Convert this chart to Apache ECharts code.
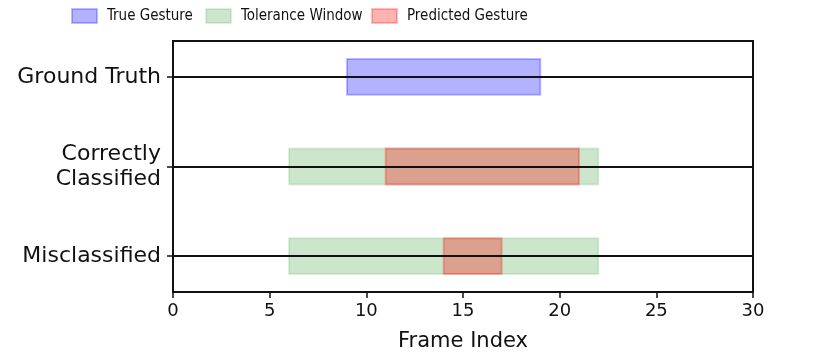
<!DOCTYPE html>
<html>
<head>
<meta charset="utf-8">
<script src="https://cdn.jsdelivr.net/npm/echarts@6/dist/echarts.min.js"></script>
<style>html,body{margin:0;padding:0;background:#fff}#c{width:829px;height:357px}</style>
</head>
<body>
<div id="c"></div>
<script>
// Data
var categories = ['Ground Truth', 'Correctly\nClassified', 'Misclassified'];
var xTicks = [0, 5, 10, 15, 20, 25, 30];
// [rowIndex, start, end]
var trueGesture = [[0, 9, 19]];
var toleranceWindow = [[1, 6, 22], [2, 6, 22]];
var predictedGesture = [[1, 11, 21], [2, 14, 17]];
var rowIndices = [0, 1, 2];

var BAR_H = 0.4;
function spanRender(params, api) {
  var row = api.value(0);
  var p0 = api.coord([api.value(1), row]);
  var p1 = api.coord([api.value(2), row]);
  var h = Math.abs(api.size([0, BAR_H])[1]);
  var style = api.style();
  return {
    type: 'rect',
    shape: { x: p0[0], y: p0[1] - h / 2, width: p1[0] - p0[0], height: h },
    style: style
  };
}

var legendFont = { fontFamily: "'Liberation Sans Narrow','DejaVu Sans Condensed',sans-serif", fontSize: 15, color: '#111', padding: [0, 0, 0, 5] };
function mkLegend(name, left) {
  return {
    data: [name], left: left, top: 8, itemWidth: 25, itemHeight: 14, itemGap: 0,
    icon: 'rect', textStyle: legendFont, padding: 0
  };
}

var chart = echarts.init(document.getElementById('c'), null, { renderer: 'canvas' });
chart.setOption({
  animation: false,
  backgroundColor: '#fff',
  legend: [mkLegend('True Gesture', 71), mkLegend('Tolerance Window', 205), mkLegend('Predicted Gesture', 371)],
  grid: { left: 173, right: 76, top: 41, bottom: 65, show: true, borderColor: '#111', borderWidth: 2, backgroundColor: 'transparent' },
  xAxis: {
    type: 'value', min: 0, max: 30, interval: 5,
    name: 'Frame Index', nameLocation: 'middle', nameGap: 39,
    nameTextStyle: { fontFamily: 'DejaVu Sans', fontSize: 21, color: '#111' },
    axisLine: { show: true, onZero: false, lineStyle: { color: '#111', width: 2 } },
    axisTick: { show: true, inside: false, length: 6, lineStyle: { color: '#111', width: 1.5 } },
    axisLabel: { fontFamily: 'DejaVu Sans', fontSize: 18, color: '#111', margin: 10 },
    splitLine: { show: false }
  },
  yAxis: {
    type: 'value', min: -0.4, max: 2.4, inverse: true,
    axisLine: { show: true, onZero: false, lineStyle: { color: '#111', width: 2 } },
    axisTick: { show: true, length: 6, customValues: rowIndices, lineStyle: { color: '#111', width: 1.5 } },
    axisLabel: {
      customValues: rowIndices, fontFamily: 'DejaVu Sans', fontSize: 22, color: '#111', margin: 12, lineHeight: 25,
      formatter: function (v) { return categories[Math.round(v)]; }
    },
    splitLine: { show: false }
  },
  series: [
    {
      name: 'Tolerance Window', type: 'custom', renderItem: spanRender, data: toleranceWindow,
      encode: { x: [1, 2], y: 0 }, z: 2,
      itemStyle: { color: 'rgba(0,128,0,0.2)', borderColor: 'rgba(0,128,0,0.12)', borderWidth: 2 }
    },
    {
      name: 'Predicted Gesture', type: 'custom', renderItem: spanRender, data: predictedGesture,
      encode: { x: [1, 2], y: 0 }, z: 3,
      itemStyle: { color: 'rgba(255,0,0,0.3)', borderColor: 'rgba(255,0,0,0.25)', borderWidth: 2 }
    },
    {
      name: 'True Gesture', type: 'custom', renderItem: spanRender, data: trueGesture,
      encode: { x: [1, 2], y: 0 }, z: 3,
      itemStyle: { color: 'rgba(0,0,255,0.3)', borderColor: 'rgba(0,0,255,0.25)', borderWidth: 2 },
      markLine: {
        silent: true, symbol: ['none', 'none'], label: { show: false }, z: 10,
        lineStyle: { color: '#111', width: 2, type: 'solid' },
        data: rowIndices.map(function (r) { return { yAxis: r }; })
      }
    }
  ]
});
</script>
</body>
</html>
